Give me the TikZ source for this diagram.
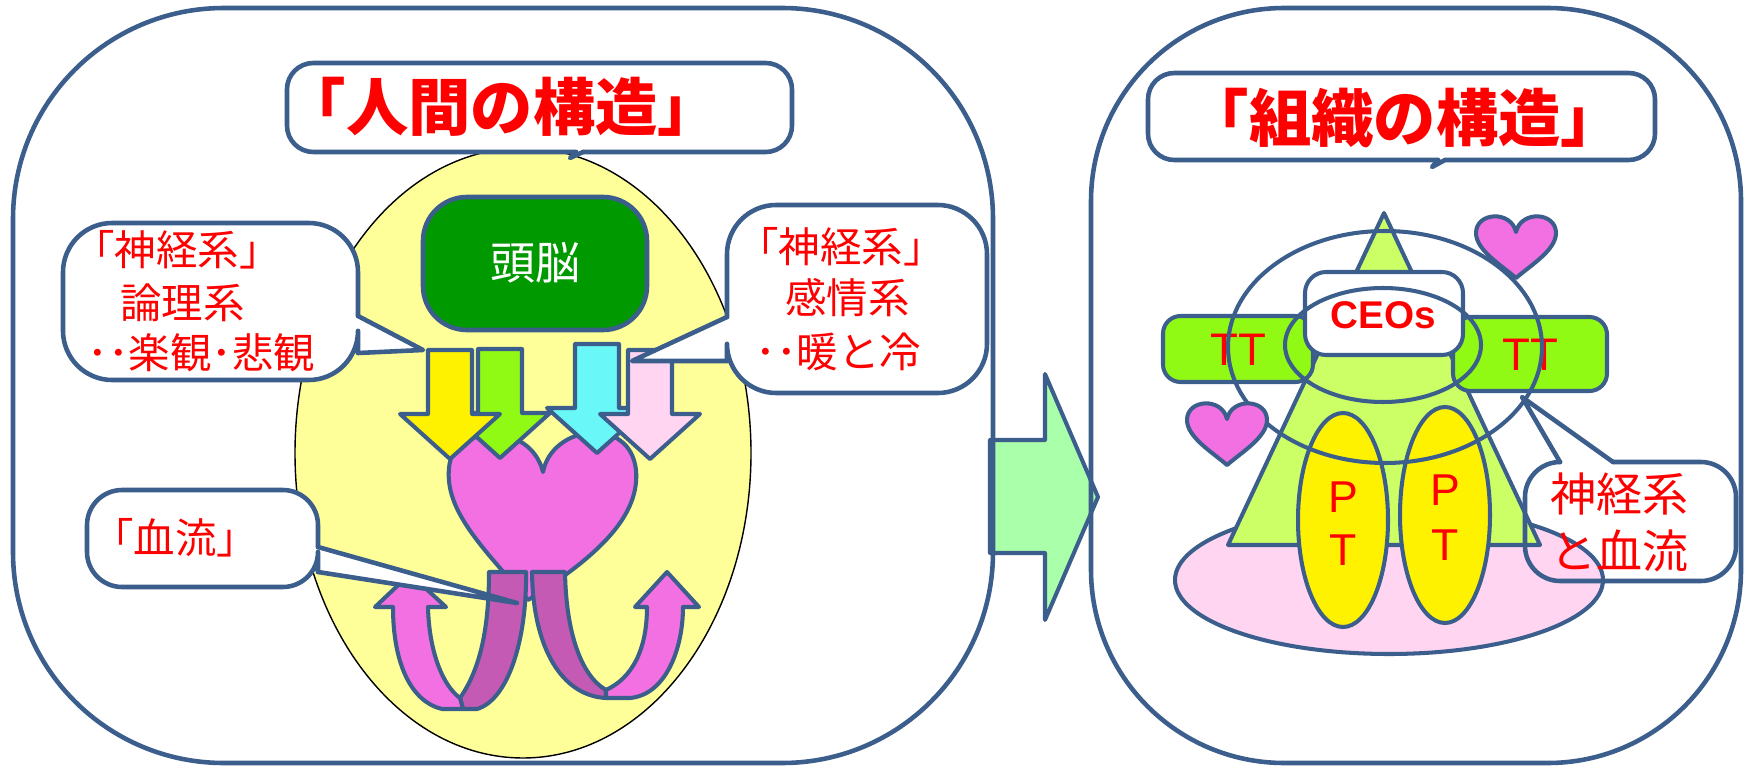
\documentclass[tikz,border=0pt]{standalone}
\usepackage{fontspec}
\setmainfont{Liberation Sans}
\newfontfamily\jp{Noto Sans CJK JP}

\definecolor{edgeblue}{RGB}{59,94,140}
\definecolor{eggyellow}{RGB}{255,255,153}
\definecolor{brainGreen}{RGB}{0,153,0}
\definecolor{heartpink}{RGB}{242,112,226}
\definecolor{bloodpurple}{RGB}{196,90,179}
\definecolor{palepink}{RGB}{255,213,242}
\definecolor{limegreen}{RGB}{145,250,20}
\definecolor{aqua}{RGB}{106,247,248}
\definecolor{sprout}{RGB}{204,255,102}
\definecolor{mintgreen}{RGB}{170,255,170}

\begin{document}
\begin{tikzpicture}[x=0.02cm, y=-0.02cm]
        \tikzstyle{edgeline}=[draw=edgeblue, line width=2.6pt, line cap=round, line join=round]
        \tikzstyle{part}=[draw=edgeblue, line width=2.3pt, line join=round]
        \tikzstyle{jptext}=[text=red, inner sep=0pt, font=\jp\fontsize{23.6}{28}\selectfont]
        \tikzstyle{jptitle}=[text=red, inner sep=0pt, font=\jp\bfseries\fontsize{35.5}{40}\selectfont]
        \tikzstyle{latintext}=[text=red, inner sep=0pt, font=\fontsize{26}{30}\selectfont]

        \useasboundingbox (0,0) rectangle (1745,767);

% arrow from the person to the organisation
        \filldraw[part, fill=mintgreen] (990,440) -- (1045,440) -- (1045,374) -- (1098,497) -- (1045,620) -- (1045,553) -- (990,553) -- cycle;

% the two frames
        \draw[edgeline, rounded corners=120] (13,8) rectangle (993,763);
        \draw[edgeline, rounded corners=110] (1091,8) rectangle (1741,763);

% ---- left: human body ----
        \filldraw[draw=black, line width=0.8pt, fill=eggyellow] (523,453) ellipse [x radius=228, y radius=305];

        % title bubble
        \fill[white, rounded corners=15] (287,63) rectangle (792,152);
        \draw[edgeline, rounded corners=15] (583,152) -- (792,152) -- (792,63) -- (287,63) -- (287,152) -- (576,152);
        \filldraw[edgeline, fill=white] (583,152) -- (570,158) -- (576,152);
        \node[jptitle] (humantitle) at (502,107) {「人間の構造」};

        % brain
        \filldraw[edgeline, fill=brainGreen, rounded corners=25] (423,197) rectangle (647,330);
        \node[text=white, inner sep=0pt, font=\jp\fontsize{25.6}{30}\selectfont] (brain) at (535,263) {頭脳};

        % heart
        \filldraw[part, fill=heartpink] (528,600) .. controls (480,545) and (445,510) .. (449,468)
            .. controls (452,425) and (530,420) .. (543,472)
            .. controls (552,425) and (630,415) .. (636,470)
            .. controls (640,515) and (600,555) .. (528,600) -- cycle;

        % blood flow loops
        \filldraw[part, fill=bloodpurple] (489,572) -- (526,572) .. controls (527,640) and (508,700) .. (477,709)
            -- (463,709) -- (460,698) .. controls (478,672) and (489,635) .. (489,572) -- cycle;
        \filldraw[part, fill=heartpink] (460,698) -- (463,709) -- (442,709) .. controls (412,702) and (393,665) .. (393,607)
            -- (375,607) -- (410,574) -- (446,607) -- (428,607) .. controls (429,650) and (442,685) .. (460,698) -- cycle;
        \filldraw[part, fill=bloodpurple] (532,572) -- (565,572) .. controls (566,630) and (580,675) .. (606,690)
            -- (606,698) .. controls (563,696) and (533,650) .. (532,572) -- cycle;
        \filldraw[part, fill=heartpink] (606,690) -- (606,698) -- (630,698) .. controls (665,695) and (683,650) .. (683,607)
            -- (699,607) -- (667,572) -- (635,607) -- (647,607) .. controls (647,650) and (632,678) .. (606,690) -- cycle;

        % nerve arrows into the heart
        \foreach \ax/\ay/\col in {500/349/limegreen, 450/350/yellow, 597/344/aqua, 650/350/palepink}
            \filldraw[part, fill=\col, shift={(\ax,\ay)}] (-22,0) -- (22,0) -- (22,64) -- (50,64) -- (0,109) -- (-50,64) -- (-22,64) -- cycle;

        % logic bubble
        \fill[white, rounded corners=28] (63,223) rectangle (358,380);
        \fill[white] (354,316) -- (423,350) -- (354,353) -- cycle;
        \draw[edgeline, rounded corners=28] (358,316) -- (358,223) -- (63,223) -- (63,380) -- (358,380) -- (358,353);
        \draw[edgeline] (358,316) -- (423,350) -- (358,353);
        \node[jptext, anchor=west] (logicA) at (73,250) {「神経系」};
        \node[jptext, anchor=west] (logicB) at (120,303) {論理系};
        \node[jptext, anchor=west] (logicC) at (87,353) {･･楽観･悲観};

        % feeling bubble
        \fill[white, rounded corners=28] (727,205) rectangle (987,393);
        \fill[white] (731,317) -- (632,361) -- (731,361) -- cycle;
        \draw[edgeline, rounded corners=28] (727,317) -- (727,205) -- (987,205) -- (987,393) -- (727,393) -- (727,361);
        \draw[edgeline] (727,317) -- (632,361) -- (727,361);
        \node[jptext, anchor=west] (feelA) at (737,247) {「神経系」};
        \node[jptext, anchor=west] (feelB) at (785,298) {感情系};
        \node[jptext, anchor=west] (feelC) at (755,352) {･･暖と冷};

        % blood bubble
        \fill[white, rounded corners=20] (87,490) rectangle (318,587);
        \fill[white] (314,547) -- (517,603) -- (314,572) -- cycle;
        \draw[edgeline, rounded corners=20] (318,547) -- (318,490) -- (87,490) -- (87,587) -- (318,587) -- (318,572);
        \draw[edgeline] (318,547) -- (517,603) -- (318,572);
        \node[jptext, anchor=west] (blood) at (92,538) {「血流」};

% ---- right: organisation ----
        \filldraw[part, fill=palepink] (1389,580) ellipse [x radius=214, y radius=74];
        \filldraw[part, fill=sprout] (1384,213) -- (1540,545) -- (1228,545) -- cycle;

        \filldraw[part, fill=limegreen, rounded corners=10] (1163,316) rectangle (1313,382);
        \filldraw[part, fill=limegreen, rounded corners=10] (1453,317) rectangle (1607,391);
        \node[latintext] (ttleft) at (1238,350) {TT};
        \node[latintext] (ttright) at (1530,355) {TT};

        \filldraw[part, fill=white, rounded corners=12] (1305,272) rectangle (1463,355);
        \node[latintext, font=\bfseries\fontsize{22}{26}\selectfont] (ceos) at (1383,315) {CEOs};
        \draw[part] (1383,345) ellipse [x radius=98, y radius=57];

        % the two PT groups
        \filldraw[part, fill=yellow] (1343,520) ellipse [x radius=45, y radius=107];
        \filldraw[part, fill=yellow] (1445,515) ellipse [x radius=45, y radius=108];
        \node[latintext, font=\fontsize{25.4}{30}\selectfont] (pleft) at (1343,497) {P};
        \node[latintext, font=\fontsize{25.4}{30}\selectfont] (tleft) at (1343,550) {T};
        \node[latintext, font=\fontsize{25.4}{30}\selectfont] (pright) at (1445,490) {P};
        \node[latintext, font=\fontsize{25.4}{30}\selectfont] (tright) at (1445,545) {T};

        \draw[part] (1385,347) ellipse [x radius=157, y radius=116];

        % nerves and blood bubble (no fill)
        \draw[edgeline, rounded corners=20] (1560,462) -- (1525,462) -- (1525,581) -- (1736,581) -- (1736,462) -- (1613,462);
        \draw[edgeline] (1560,462) -- (1522,397) -- (1613,462);
        \node[jptext, anchor=west, font=\jp\fontsize{26.2}{30}\selectfont] (nerveA) at (1550,494) {神経系};
        \node[jptext, anchor=west, font=\jp\fontsize{26.2}{30}\selectfont] (nerveB) at (1550,551) {と血流};

        % hearts
        \foreach \hx/\hy in {1516/215, 1227/402}
            \filldraw[part, fill=heartpink, shift={(\hx,\hy)}] (0,63) .. controls (-15,50) and (-40,35) .. (-40,18)
                .. controls (-40,-3) and (-5,-5) .. (0,17) .. controls (5,-5) and (40,-3) .. (40,18)
                .. controls (40,35) and (15,50) .. (0,63) -- cycle;

        % title bubble
        \fill[white, rounded corners=15] (1148,73) rectangle (1655,160);
        \draw[edgeline, rounded corners=15] (1445,160) -- (1655,160) -- (1655,73) -- (1148,73) -- (1148,160) -- (1438,160);
        \filldraw[edgeline, fill=white] (1445,160) -- (1432,167) -- (1438,160);
        \node[jptitle] (orgtitle) at (1405,118) {「組織の構造」};

    \end{tikzpicture}
\end{document}
